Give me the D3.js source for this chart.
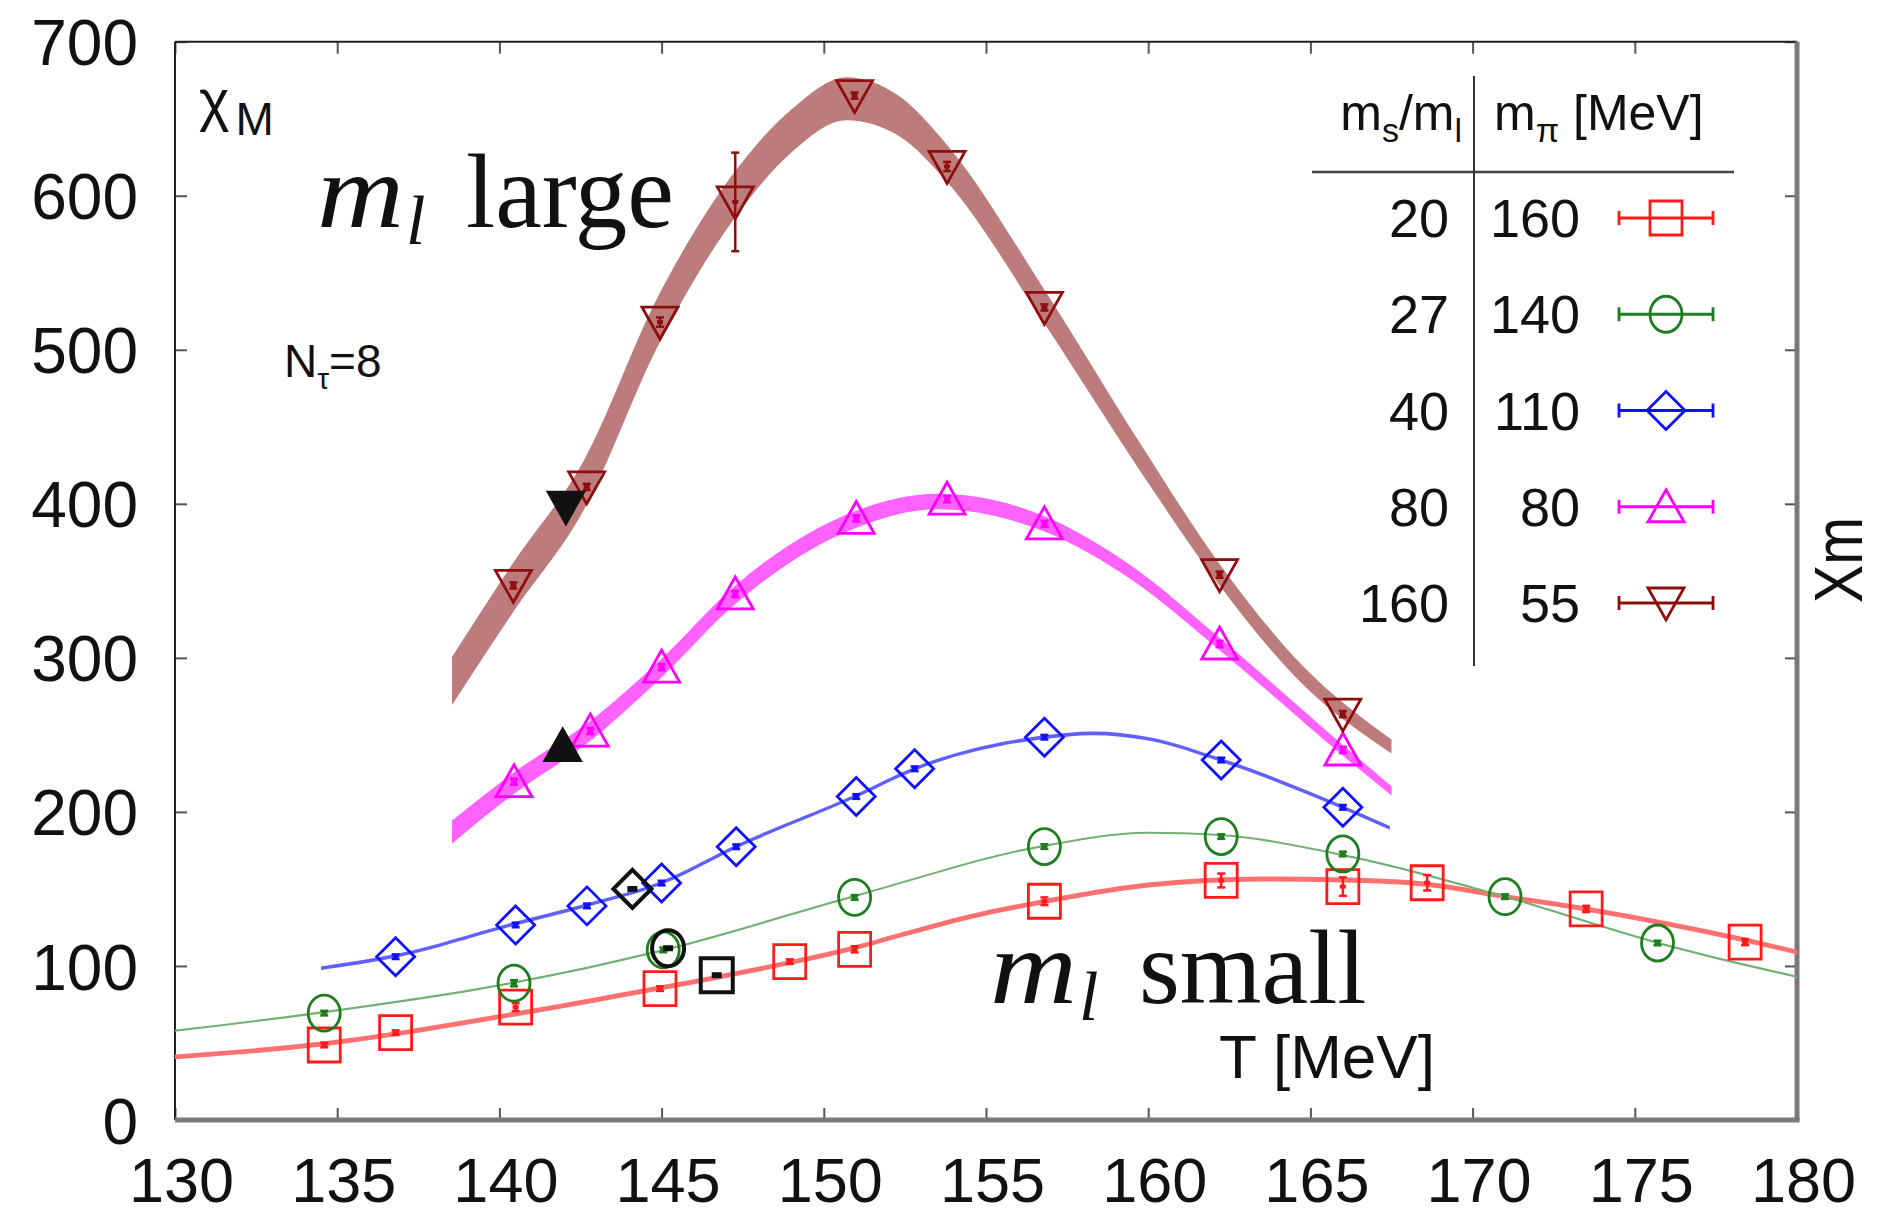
<!DOCTYPE html>
<html><head><meta charset="utf-8">
<script src="https://cdn.jsdelivr.net/npm/d3@7"></script>
<style>
body{margin:0;background:#fff;}
svg{display:block;}
text{font-family:"Liberation Sans",Arial,sans-serif;fill:#111;}
.serif{font-family:"Liberation Serif","Times New Roman",serif;}
</style>
</head><body>
<svg id="c" width="1880" height="1216"></svg>
<script>
// ---------- data ----------
const xTicks = [130,135,140,145,150,155,160,165,170,175,180];
const yTicks = [0,100,200,300,400,500,600,700];

// legend table
const ratios = [20,27,40,80,160];
const mPi    = [160,140,110,80,55];

// data points, m_s/m_l = 20
const T_20   = [134.6,136.8,140.5,144.95,148.95,150.95,156.8,162.25,166.0,168.6,173.5,178.4];
const chi_20 = [48.7,56.7,73.3,85.3,102.8,110.8,142,155.5,151.5,154,137,115.5];
const err_20 = [1.5,1.5,2.5,1.5,1.5,2,2.5,4.5,6,5,2,2];
// m_s/m_l = 27
const T_27   = [134.6,140.45,145.05,150.95,156.8,162.25,166.0,171.0,175.7];
const chi_27 = [69.4,88.8,110.4,144.5,177.5,184,172.7,145,114.9];
const err_27 = [1.5,2,1.5,1.5,1.5,1.5,1.5,1.5,1.5];
// m_s/m_l = 40
const T_40   = [136.8,140.5,142.7,145.0,147.3,151.0,152.8,156.8,162.25,166.0];
const chi_40 = [106,126.6,139,153.8,177.4,210,228,248.5,233.7,203];
const err_40 = [1.5,1.5,1.5,1.5,1.5,1.5,1.5,1.5,1.5,1.5];
// m_s/m_l = 80
const T_80   = [140.45,142.8,145.0,147.27,151.0,153.8,156.8,162.2,166.0];
const chi_80 = [219.6,252.5,294,341.5,390.5,403,387,309,240.2];
const err_80 = [2,2,2,2,2,2,2,2,2];
// m_s/m_l = 160
const T_160   = [140.43,142.69,144.95,147.27,150.95,153.8,156.8,162.2,166.0];
const chi_160 = [347,411,518,596,665,619,527.5,354,263.5];
const err_160 = [2,2,3,32,2,3,2,2,2];
// black points (other data set), keyed by m_s/m_l
const T_black     = [146.7,145.2,144.1,141.95,142.05];
const chi_black   = [94,111.5,150,243,398];
const ratio_black = [20,27,40,80,160];

// fit bands: T knots, centre, half width
const bandT_20 = [130,134.6,140.4,144.9,148.9,150.9,152.35,154.5,156.8,160,163.5,166,168.5,171,173.5,178.4,180];
const bandC_20 = [41,49.5,68.5,85.5,102,111.5,120,132,141.8,152.6,156.5,155.8,153.2,145,137,116.8,109];
const bandW_20 = [1.6,1.6,1.6,1.6,1.6,1.6,1.6,1.6,1.6,1.6,1.6,1.6,1.6,1.6,1.6,1.6,1.6];

const bandT_27 = [130,134.6,140.4,145,150.9,156.8,160,162.2,166,171,175.7,180];
const bandC_27 = [58,70,89,110,145,178,186.5,185,172,145,115,93];
const bandW_27 = [0.7,0.7,0.7,0.7,0.7,0.7,0.7,0.7,0.7,0.7,0.7,0.7];

const bandT_40 = [134.5,136.8,140.4,142.7,145,147.3,151,152.8,156.8,158.3,160,162.2,166,167.45];
const bandC_40 = [98.5,106.5,127,139.5,154,177.5,210.5,228,248.5,251,247.5,234,203,189.6];
const bandW_40 = [1.2,1.2,1.2,1.2,1.2,1.2,1.2,1.2,1.2,1.2,1.2,1.2,1.2,1.2];

const bandT_80 = [138.54,140.4,142.7,145,147.27,151,153.5,156.8,159.5,162.2,166,167.5];
const bandC_80 = [187,218,251,293.5,341,390,401.5,387,355,309,240,213.6];
const bandW_80 = [7.5,7,6.5,6,6,5.5,5,5,4.5,4,3.5,3];

const bandT_160 = [138.54,140.4,142.6,144.9,147.27,149,150.7,152.3,153.8,156.8,159.7,162.2,164.8,167.5];
const bandC_160 = [285,345,412,519,601,642,663,652,621,528,432,354,288,242.5];
const bandW_160 = [15.6,16,16,16,15,14,14,13,12,11,9,7,6,4.5];

// ---------- styles ----------
const style = {
  20:  {shape:'square',   mark:'#ff1a1a', band:'#ff7070'},
  27:  {shape:'circle',   mark:'#1e7d1e', band:'#72b072'},
  40:  {shape:'diamond',  mark:'#1010ff', band:'#6060ff'},
  80:  {shape:'triangle', mark:'#ff00ff', band:'#ff62ff'},
  160: {shape:'triangleDown', mark:'#8e0d0d', band:'#bd7c7c'}
};

const svg = d3.select('#c');
const L=175, R=1797, TOP=41.7, BOT=1120;
const x = d3.scaleLinear().domain([130,180]).range([L,R]);
const y = d3.scaleLinear().domain([0,700]).range([BOT,TOP]);

svg.append('defs').append('clipPath').attr('id','clip')
  .append('rect').attr('x',L).attr('y',TOP).attr('width',R-L).attr('height',BOT-TOP);

// ---------- axes ----------
const tickCol = '#555';
const gx = svg.append('g').attr('transform',`translate(0,${BOT})`)
  .call(d3.axisBottom(x).tickValues(xTicks).tickSize(-12).tickPadding(37).tickFormat(d3.format('d')));
gx.select('.domain').remove();
gx.selectAll('line').attr('stroke',tickCol).attr('stroke-width',2);
gx.selectAll('text').attr('font-size',63).attr('dx',6).attr('fill','#111')
  .attr('font-family','"Liberation Sans",Arial,sans-serif');

const gxt = svg.append('g').attr('transform',`translate(0,${TOP})`)
  .call(d3.axisTop(x).tickValues(xTicks).tickSize(-12).tickFormat(''));
gxt.select('.domain').remove();
gxt.selectAll('line').attr('stroke',tickCol).attr('stroke-width',2);

const gy = svg.append('g').attr('transform',`translate(${L},0)`)
  .call(d3.axisLeft(y).tickValues(yTicks).tickSize(-12).tickPadding(37).tickFormat(d3.format('d')));
gy.select('.domain').remove();
gy.selectAll('line').attr('stroke',tickCol).attr('stroke-width',2);
gy.selectAll('text').attr('font-size',64).attr('dy','0.36em').attr('fill','#111')
  .attr('font-family','"Liberation Sans",Arial,sans-serif');

const gyr = svg.append('g').attr('transform',`translate(${R},0)`)
  .call(d3.axisRight(y).tickValues(yTicks).tickSize(-12).tickFormat(''));
gyr.select('.domain').remove();
gyr.selectAll('line').attr('stroke',tickCol).attr('stroke-width',2);

// frame
svg.append('line').attr('x1',L).attr('x2',R).attr('y1',TOP).attr('y2',TOP).attr('stroke','#222').attr('stroke-width',2);
svg.append('line').attr('x1',L).attr('x2',L).attr('y1',TOP).attr('y2',BOT).attr('stroke','#222').attr('stroke-width',2);
svg.append('line').attr('x1',L).attr('x2',R+2.5).attr('y1',BOT).attr('y2',BOT).attr('stroke','#7a7a7a').attr('stroke-width',5);
svg.append('line').attr('x1',R).attr('x2',R).attr('y1',TOP).attr('y2',BOT).attr('stroke','#7a7a7a').attr('stroke-width',5);

// ---------- bands ----------
const plot = svg.append('g').attr('clip-path','url(#clip)');
const area = d3.area().x(d=>x(d.T)).y0(d=>y(d.c-d.w)).y1(d=>y(d.c+d.w)).curve(d3.curveMonotoneX);
const bands = [
  [20, bandT_20, bandC_20, bandW_20],
  [27, bandT_27, bandC_27, bandW_27],
  [40, bandT_40, bandC_40, bandW_40],
  [80, bandT_80, bandC_80, bandW_80],
  [160, bandT_160, bandC_160, bandW_160]
];
bands.forEach(([r,T,C,W])=>{
  const pts = T.map((t,i)=>({T:t,c:C[i],w:W[i]}));
  plot.append('path').datum(pts).attr('d',area).attr('fill',style[r].band).attr('stroke','none');
});

// ---------- markers ----------
function markerPath(shape, cx, cy){
  const p = d3.path();
  if(shape==='square'){ p.rect(cx-16,cy-17,32,34); }
  else if(shape==='diamond'){ p.moveTo(cx,cy-19); p.lineTo(cx+19,cy); p.lineTo(cx,cy+19); p.lineTo(cx-19,cy); p.closePath(); }
  else if(shape==='triangle'){ p.moveTo(cx,cy-17); p.lineTo(cx+18,cy+15); p.lineTo(cx-18,cy+15); p.closePath(); }
  else if(shape==='triangleDown'){ p.moveTo(cx-18,cy-15); p.lineTo(cx+18,cy-15); p.lineTo(cx,cy+17); p.closePath(); }
  return p.toString();
}
function drawMarker(g, shape, cx, cy, col, filled, sw){
  sw = sw || 2.8;
  if(shape==='circle'){
    g.append('ellipse').attr('cx',cx).attr('cy',cy).attr('rx',16).attr('ry',18)
      .attr('fill',filled?col:'none').attr('stroke',col).attr('stroke-width',sw);
  } else {
    g.append('path').attr('d',markerPath(shape,cx,cy))
      .attr('fill',filled?col:'none').attr('stroke',col).attr('stroke-width',sw).attr('stroke-linejoin','miter');
  }
}
function drawErr(g, cx, v, e, col){
  const y1=y(v-e), y2=y(v+e);
  g.append('line').attr('x1',cx).attr('x2',cx).attr('y1',y1).attr('y2',y2).attr('stroke',col).attr('stroke-width',2.5);
  [y1,y2].forEach(yy=>g.append('line').attr('x1',cx-4).attr('x2',cx+4).attr('y1',yy).attr('y2',yy).attr('stroke',col).attr('stroke-width',2.5));
  g.append('rect').attr('x',cx-3).attr('y',y(v)-2).attr('width',6).attr('height',4).attr('fill',col);
}
const series = [
  [20, T_20, chi_20, err_20],
  [27, T_27, chi_27, err_27],
  [40, T_40, chi_40, err_40],
  [80, T_80, chi_80, err_80],
  [160, T_160, chi_160, err_160]
];
const mg = svg.append('g');
series.forEach(([r,T,C,E])=>{
  T.forEach((t,i)=>{
    const cx=x(t), cy=y(C[i]);
    drawErr(mg, cx, C[i], E[i], style[r].mark);
    drawMarker(mg, style[r].shape, cx, cy, style[r].mark, false);
  });
});
// black points
T_black.forEach((t,i)=>{
  const sh = style[ratio_black[i]].shape;
  const filled = (sh==='triangle'||sh==='triangleDown');
  const cx=x(t), cy=y(chi_black[i]);
  drawMarker(mg, sh, cx, cy, '#111', filled, filled?2.5:4);
  if(!filled){
    mg.append('rect').attr('x',cx-5).attr('y',cy-3).attr('width',10).attr('height',6).attr('fill','#111');
  }
});

// ---------- texts ----------
const tx = svg.append('text').attr('x',199).attr('y',120);
tx.append('tspan').attr('font-size',58).text('χ');
tx.append('tspan').attr('font-size',46).attr('dx',6).attr('dy',15).text('M');

const nt = svg.append('text').attr('x',284).attr('y',377).attr('font-size',46);
nt.append('tspan').text('N');
nt.append('tspan').attr('font-size',30).attr('dy',12).text('τ');
nt.append('tspan').attr('dy',-12).text('=8');

function mlLabel(xm, base, word, xw){
  svg.append('text').attr('class','serif').attr('x',xm).attr('y',base)
    .attr('font-size',105).attr('font-style','italic')
    .attr('textLength',87).attr('lengthAdjust','spacingAndGlyphs').text('m');
  svg.append('text').attr('class','serif').attr('x',xm+89).attr('y',base+17)
    .attr('font-size',70).attr('font-style','italic').text('l');
  svg.append('text').attr('class','serif').attr('x',xw).attr('y',base)
    .attr('font-size',105).text(word);
}
mlLabel(317, 227, 'large', 466);
mlLabel(990, 1003, 'small', 1139);

svg.append('text').attr('x',1219).attr('y',1078).attr('font-size',62).text('T [MeV]');

svg.append('text').attr('transform','translate(1862,603) rotate(-90)')
  .attr('font-size',68).attr('textLength',86).attr('lengthAdjust','spacingAndGlyphs').text('Xm');

// ---------- legend table ----------
const lg = svg.append('g');
const h1 = lg.append('text').attr('x',1462).attr('y',130).attr('text-anchor','end').attr('font-size',50);
h1.append('tspan').text('m');
h1.append('tspan').attr('font-size',34).attr('dy',12).text('s');
h1.append('tspan').attr('dy',-12).text('/m');
h1.append('tspan').attr('font-size',34).attr('dy',12).text('l');
const h2 = lg.append('text').attr('x',1494).attr('y',130).attr('font-size',50);
h2.append('tspan').text('m');
h2.append('tspan').attr('font-size',34).attr('dy',12).text('π');
h2.append('tspan').attr('dy',-12).text(' [MeV]');

lg.append('line').attr('x1',1312).attr('x2',1734).attr('y1',172).attr('y2',172).attr('stroke','#444').attr('stroke-width',2.5);
lg.append('line').attr('x1',1474).attr('x2',1474).attr('y1',76).attr('y2',666).attr('stroke','#333').attr('stroke-width',2);

const rowY = d3.scaleLinear().domain([0,4]).range([218,603]);
ratios.forEach((r,i)=>{
  const yy = rowY(i);
  lg.append('text').attr('x',1449).attr('y',yy+19).attr('text-anchor','end').attr('font-size',54).text(r);
  lg.append('text').attr('x',1580).attr('y',yy+19).attr('text-anchor','end').attr('font-size',54).text(mPi[i]);
  const col = style[r].mark;
  lg.append('line').attr('x1',1619).attr('x2',1713).attr('y1',yy).attr('y2',yy).attr('stroke',col).attr('stroke-width',2.8);
  [1619,1713].forEach(xx=>lg.append('line').attr('x1',xx).attr('x2',xx).attr('y1',yy-7).attr('y2',yy+7).attr('stroke',col).attr('stroke-width',2.8));
  drawMarker(lg, style[r].shape, 1666, yy, col, false);
});
</script>
</body></html>
